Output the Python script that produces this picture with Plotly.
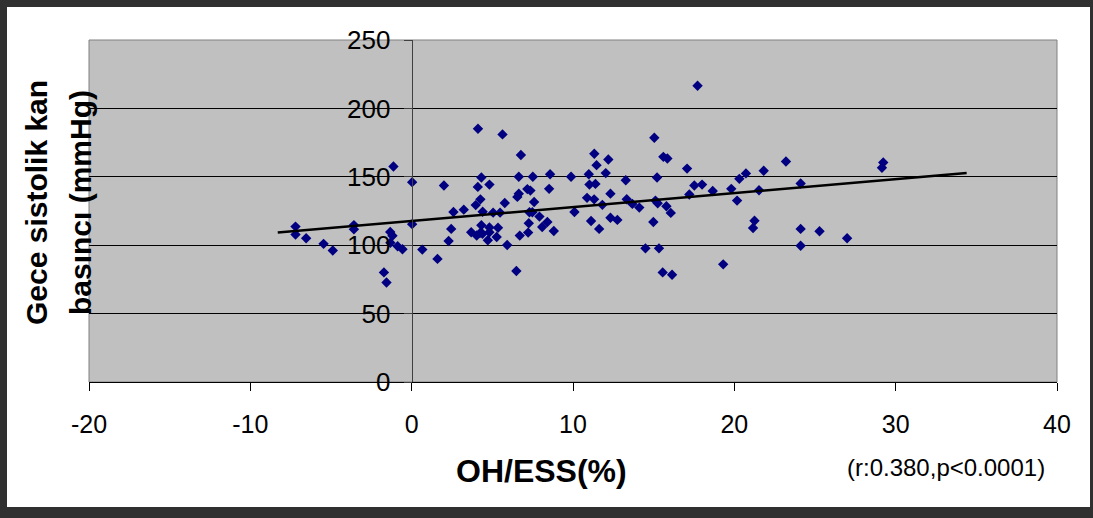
import plotly.graph_objects as go

# OH/ESS (%) values
oh_ess = [
    -7.20, -7.20, -6.54, -5.46, -4.89, -3.58, -3.58, -1.13, -1.33, -1.19,
    -1.32, -0.87, -0.57, -1.72, -1.56, 0.03, 0.03, 0.66, 1.60, 2.00,
    2.29, 2.45, 2.59, 3.23, 3.69, 4.11, 4.10, 4.32, 4.82, 4.26,
    3.97, 4.40, 5.05, 5.48, 4.32, 4.82, 5.35, 4.03, 4.23, 4.39,
    4.82, 4.72, 5.27, 5.92, 5.63, 5.77, 6.77, 6.64, 7.51, 6.64,
    6.55, 7.17, 7.36, 7.59, 7.30, 7.48, 7.92, 7.26, 8.41, 8.09,
    8.81, 7.22, 6.70, 6.49, 8.58, 8.52, 9.88, 10.09, 10.98, 11.32,
    11.46, 11.02, 11.39, 10.87, 11.31, 11.12, 11.62, 12.19, 12.03, 13.27,
    12.32, 11.82, 12.32, 12.75, 13.33, 13.68, 14.11, 15.04, 15.21, 15.60,
    15.85, 15.11, 15.25, 15.79, 16.06, 14.98, 14.49, 15.33, 15.56, 16.14,
    17.72, 17.07, 17.21, 17.52, 18.00, 18.66, 19.81, 20.31, 20.72, 20.17,
    19.31, 21.82, 23.20, 21.53, 24.11, 21.25, 21.16, 24.11, 24.11, 25.28,
    26.99, 29.23, 29.15,
]
# Night systolic blood pressure (mmHg)
sbp_night = [
    113.6, 107.8, 105.1, 101.0, 96.1, 114.7, 111.6, 157.5, 109.7, 106.9,
    101.8, 99.2, 97.0, 80.1, 72.7, 146.1, 115.4, 96.8, 90.0, 143.6,
    103.1, 111.9, 124.3, 126.0, 109.5, 185.1, 142.6, 149.5, 144.3, 133.5,
    129.3, 124.5, 123.8, 123.8, 114.6, 113.0, 112.8, 107.1, 108.8, 108.4,
    109.5, 103.6, 106.0, 100.1, 181.0, 130.9, 165.9, 150.0, 150.0, 137.7,
    135.3, 141.0, 139.9, 131.6, 124.1, 124.1, 120.9, 116.0, 117.0, 113.3,
    110.4, 109.2, 107.0, 81.1, 151.9, 141.2, 150.0, 124.3, 151.9, 166.8,
    158.5, 144.3, 144.8, 134.6, 133.5, 117.7, 111.9, 162.6, 152.7, 147.5,
    137.7, 129.5, 120.1, 118.5, 133.6, 130.2, 127.5, 178.5, 149.5, 164.6,
    163.4, 132.6, 130.7, 128.5, 123.6, 117.0, 97.7, 97.7, 80.1, 78.4,
    216.6, 156.0, 137.1, 143.6, 144.3, 139.6, 141.2, 148.5, 152.5, 132.6,
    86.0, 154.4, 161.2, 140.2, 145.1, 117.9, 112.6, 111.9, 99.6, 110.2,
    105.1, 160.4, 156.6,
]
# Trend line end points (as drawn)
trend_x = [-8.3, 34.4]
trend_y = [109.3, 152.7]

x_ticks = [-20, -10, 0, 10, 20, 30, 40]
y_ticks = [0, 50, 100, 150, 200, 250]

W, H = 1093, 518
ML, MR, MT, MB = 89, 36, 40, 136
PW, PH = W - ML - MR, H - MT - MB


def px(xp):
    return (xp - ML) / PW


def py(yp):
    return (H - MB - yp) / PH


fig = go.Figure()
fig.add_trace(go.Scatter(
    x=oh_ess, y=sbp_night, mode="markers",
    marker=dict(symbol="diamond", size=8, color="#000080", line=dict(width=0)),
    showlegend=False, cliponaxis=False,
))
fig.add_trace(go.Scatter(
    x=trend_x, y=trend_y, mode="lines",
    line=dict(color="black", width=2.5), showlegend=False,
))

font_family = "Liberation Sans, Arial, sans-serif"

shapes = [
    # plot area border
    dict(type="rect", xref="paper", yref="paper", x0=0, x1=1, y0=0, y1=1,
         line=dict(color="#808080", width=1), layer="below"),
    # outer dark frame
    dict(type="rect", xref="paper", yref="paper", x0=px(0), x1=px(7), y0=py(0), y1=py(H),
         fillcolor="#303030", line=dict(width=0)),
    dict(type="rect", xref="paper", yref="paper", x0=px(0), x1=px(W), y0=py(0), y1=py(7),
         fillcolor="#303030", line=dict(width=0)),
    dict(type="rect", xref="paper", yref="paper", x0=px(1090), x1=px(W), y0=py(0), y1=py(H),
         fillcolor="#303030", line=dict(width=0)),
    dict(type="rect", xref="paper", yref="paper", x0=px(0), x1=px(W), y0=py(507), y1=py(H),
         fillcolor="#303030", line=dict(width=0)),
]

annotations = [
    dict(text="<b>Gece sistolik kan</b>", xref="paper", yref="paper", x=px(36), y=py(203),
         textangle=-90, showarrow=False, font=dict(size=30, color="black", family=font_family),
         xanchor="center", yanchor="middle"),
    dict(text="<b>basıncı (mmHg)</b>", xref="paper", yref="paper", x=px(80), y=py(203),
         textangle=-90, showarrow=False, font=dict(size=30, color="black", family=font_family),
         xanchor="center", yanchor="middle"),
    dict(text="<b>OH/ESS(%)</b>", xref="paper", yref="paper", x=px(541), y=py(471),
         showarrow=False, font=dict(size=32, color="black", family=font_family),
         xanchor="center", yanchor="middle"),
    dict(text="(r:0.380,p<0.0001)", xref="paper", yref="paper", x=px(946), y=py(467),
         showarrow=False, font=dict(size=24, color="black", family=font_family),
         xanchor="center", yanchor="middle"),
]

fig.update_layout(
    width=W, height=H,
    margin=dict(l=ML, r=MR, t=MT, b=MB, pad=0),
    paper_bgcolor="white", plot_bgcolor="#C0C0C0",
    font=dict(family=font_family, color="black"),
    shapes=shapes, annotations=annotations,
    xaxis=dict(
        range=[-20, 40], tickvals=x_ticks, ticktext=[str(v) for v in x_ticks],
        showgrid=False, zeroline=False, showline=True, linecolor="black", linewidth=1,
        ticks="outside", ticklen=8, tickcolor="black", tickwidth=1,
        tickfont=dict(size=25), ticklabelstandoff=12,
        fixedrange=True,
    ),
    yaxis=dict(
        range=[0, 250], tickvals=y_ticks, ticktext=[str(v) for v in y_ticks],
        anchor="free", position=20 / 60,
        showgrid=True, gridcolor="black", gridwidth=1,
        zeroline=False, showline=True, linecolor="#404040", linewidth=1,
        ticks="outside", ticklen=8, tickcolor="#404040", tickwidth=1,
        tickfont=dict(size=26), ticklabelstandoff=8,
        fixedrange=True,
    ),
)

fig.write_html(
    "out.html",
    config={"displayModeBar": False, "staticPlot": True},
    post_script="document.body.style.margin='0';document.body.style.overflow='hidden';",
)
